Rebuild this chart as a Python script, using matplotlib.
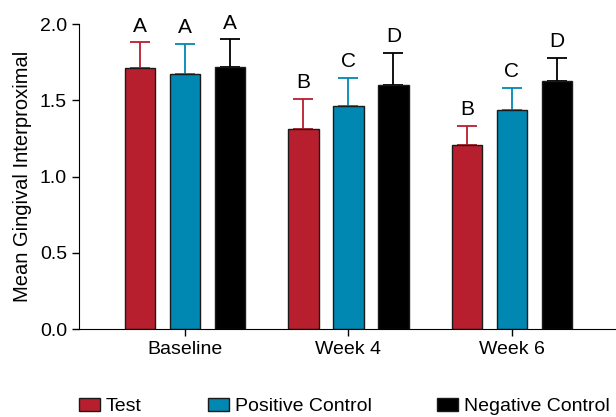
import numpy as np
import matplotlib
matplotlib.use("Agg")
import matplotlib.pyplot as plt

plt.rcParams['font.family'] = ['Liberation Sans', 'DejaVu Sans']

# data
groups = ['Baseline', 'Week 4', 'Week 6']
series = ['Test', 'Positive Control', 'Negative Control']
means = {
    'Test': [1.71, 1.31, 1.21],
    'Positive Control': [1.67, 1.46, 1.44],
    'Negative Control': [1.72, 1.60, 1.63],
}
sds = {
    'Test': [0.17, 0.20, 0.12],
    'Positive Control': [0.20, 0.19, 0.14],
    'Negative Control': [0.18, 0.21, 0.15],
}
letters = {
    'Test': ['A', 'B', 'B'],
    'Positive Control': ['A', 'C', 'C'],
    'Negative Control': ['A', 'D', 'D'],
}
colors = {'Test': '#B81F2E', 'Positive Control': '#0088B2', 'Negative Control': '#000000'}

fig = plt.figure(figsize=(6.16, 4.17), dpi=100)
ax = fig.add_axes([0.128, 0.211, 0.872, 0.731])

x = np.arange(len(groups))
width = 0.187
offsets = [-0.275, 0, 0.275]

for s, off in zip(series, offsets):
    m = np.array(means[s])
    e = np.array(sds[s])
    ax.bar(x + off, m, width, color=colors[s], edgecolor='#1a1a1a', linewidth=1.0,
           label=s, zorder=2)
    ax.errorbar(x + off, m, yerr=[np.zeros_like(e), e], fmt='none', ecolor=colors[s],
                elinewidth=1.3, capsize=7, capthick=1.3, zorder=1)
    for xi, top, lab in zip(x + off, m + e, letters[s]):
        ax.text(xi, top + 0.045, lab, ha='center', va='bottom', fontsize=15)

ax.set_xlim(-0.648, 2.636)
ax.set_ylim(0, 2.0)
ax.set_yticks([0, 0.5, 1.0, 1.5, 2.0])
ax.set_yticklabels(['0.0', '0.5', '1.0', '1.5', '2.0'])
ax.set_xticks(x)
ax.set_xticklabels(groups)
ax.tick_params(labelsize=14, length=5, width=1)
ax.spines['top'].set_visible(False)
ax.spines['right'].set_visible(False)
ax.set_ylabel('Mean Gingival Interproximal', fontsize=14.5, labelpad=6)

fig.legend(loc='lower left', bbox_to_anchor=(0.128, 0.004), ncol=3, frameon=False,
           fontsize=14, handlelength=1.08, handleheight=0.62, handletextpad=0.3,
           columnspacing=3.4, borderpad=0, borderaxespad=0)

fig.savefig('out.png', dpi=100)
